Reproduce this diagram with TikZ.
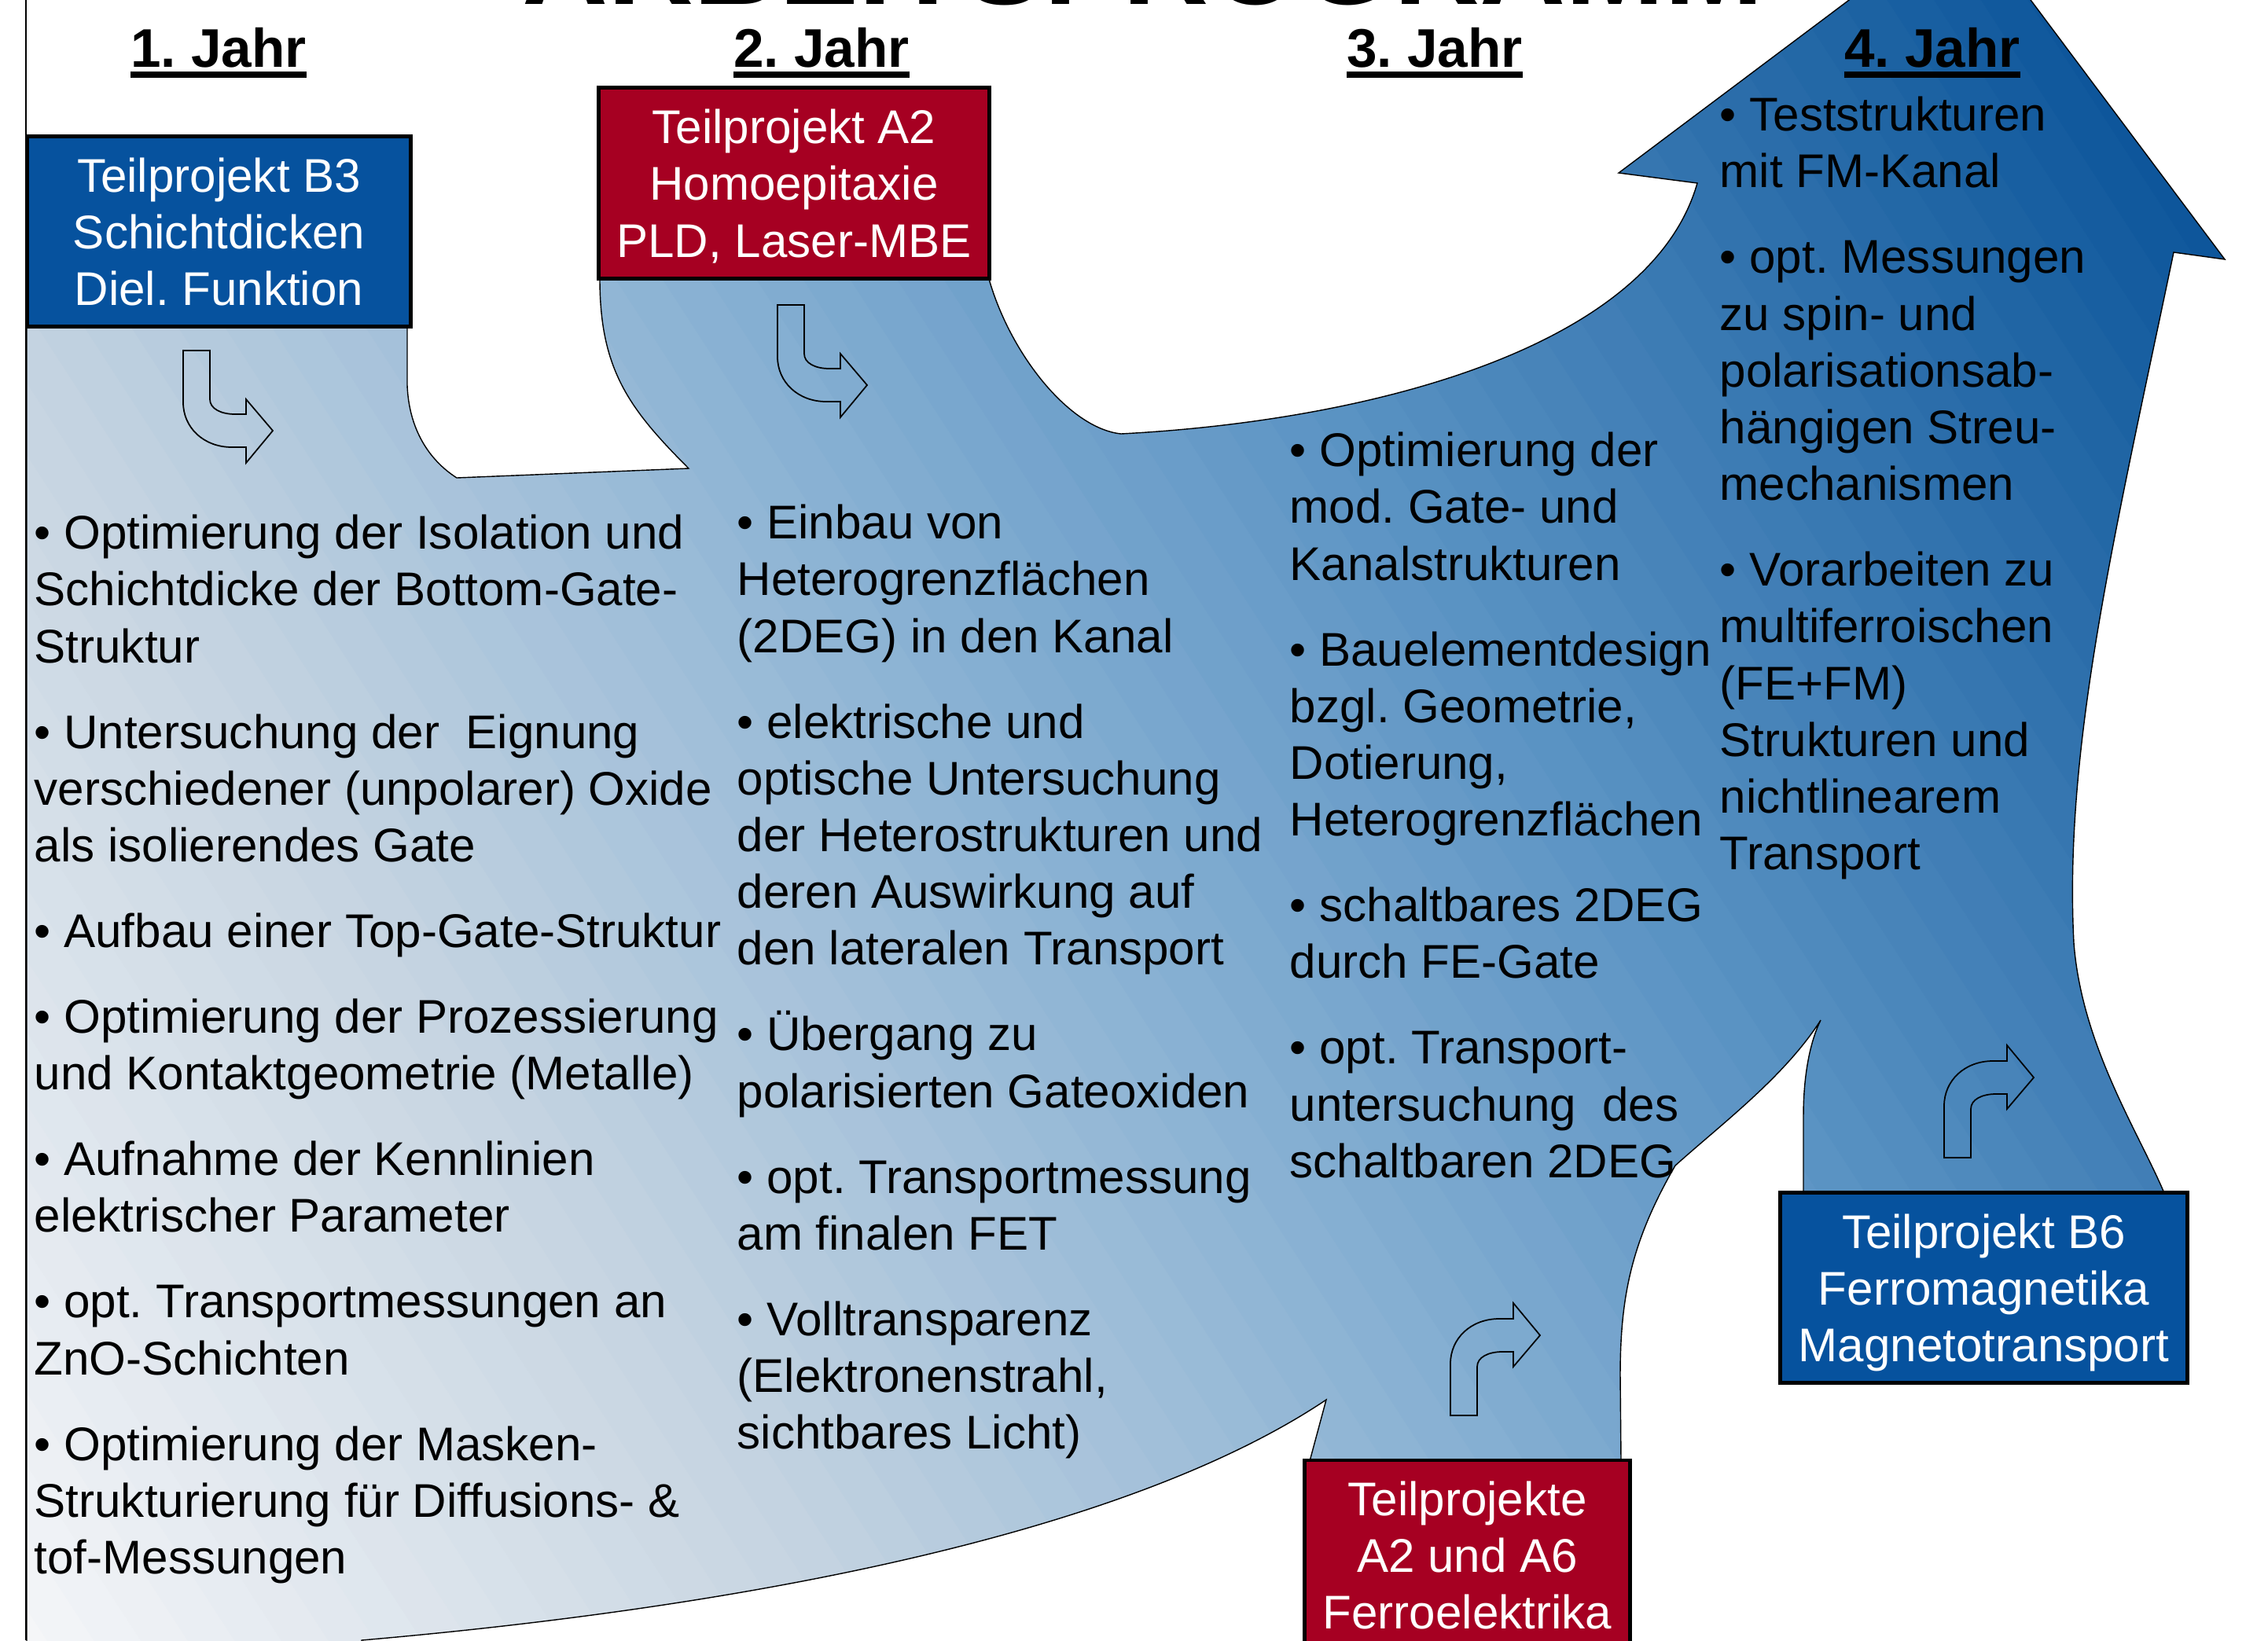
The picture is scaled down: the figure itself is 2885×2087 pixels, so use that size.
\documentclass[tikz,border=0pt]{standalone}
\usepackage{fontspec}
\setmainfont{Liberation Sans}
\frenchspacing
\usetikzlibrary{calc}
\definecolor{tpblau}{RGB}{6,82,158}
\definecolor{tprot}{RGB}{166,0,34}
% Umriss des grossen Pfeils (Einheiten: Pixel, y nach unten)
\def\hauptpfeil{(34,416) -- (518,416) -- (518,490) .. controls (520,545) and (545,585) .. (581,608) -- (876,596) .. controls (800,520) and (763,470) .. (763,355) -- (1258,355) .. controls (1285,450) and (1360,545) .. (1426,552) .. controls (1750,535) and (2100,440) .. (2159,233) -- (2059,220) -- (2500,-111) -- (2830,330) -- (2765,321) .. controls (2690,680) and (2625,950) .. (2638,1200) .. controls (2648,1330) and (2720,1440) .. (2753,1518) -- (2294,1518) -- (2294,1420) .. controls (2294,1360) and (2305,1320) .. (2316,1298) .. controls (2270,1370) and (2190,1430) .. (2131,1483) .. controls (2075,1580) and (2061,1650) .. (2061,1750) -- (2062,1859) -- (1666,1859) -- (1687,1781) .. controls (1450,1940) and (1000,2040) .. (460,2087) -- (460,2100) -- (34,2100) -- cycle}
% kleiner Knickpfeil (runter, dann rechts)
\def\knickpfeil{(0,0) -- (34,0) -- (34,62) .. controls (34,74) and (48,81) .. (66,81) -- (80,81) -- (80,62) -- (114,102) -- (80,143) -- (80,123) -- (62,123) .. controls (26,123) and (0,98) .. (0,66) -- cycle}
% Farbwert eines Streifens, #1..#5 = Kanal an den Stuetzstellen
\newcommand\bandval[5]{\pgfmathparse{(\bandpos<900 ? #1+(#2-#1)*(\bandpos/900) : (\bandpos<1600 ? #2+(#3-#2)*((\bandpos-900)/700) : (\bandpos<2250 ? #3+(#4-#3)*((\bandpos-1600)/650) : #4+(#5-#4)*(min(\bandpos-2250,1150)/1150))))/255}}
\newcommand\boxzeilen[3]{\rule{0pt}{16.4pt}#1\\#2\\#3\rule[-4pt]{0pt}{4pt}}
\tikzset{
  spalte/.style={anchor=north west, align=left, inner sep=0pt, font=\fontsize{17.1}{20.54}\selectfont},
  tpbox/.style={draw=black, line width=1.4pt, text=white, align=center, inner sep=0pt, font=\fontsize{17.1}{20.54}\selectfont},
  jahr/.style={anchor=base, inner sep=0pt, font=\bfseries\fontsize{19.7}{23.6}\selectfont},
  jahrlinie/.style={line width=2.1pt},
  knick/.style={draw=black, line width=0.5pt},
}

\begin{document}
\begin{tikzpicture}[x=0.01cm, y=-0.01cm]
		%%%%% START %%%%%
		\useasboundingbox (0,0) rectangle (2885,2087);
		\fill[white] (0,0) rectangle (2885,2087);
		
		% Verlauf in Streifen
		\begin{scope}
			\clip \hauptpfeil;
			\foreach \i in {0,...,69} {
				\pgfmathsetmacro\bandpos{(\i+0.5)*50}
				\pgfmathsetmacro\bandlo{\i*50}
				\pgfmathsetmacro\bandhi{\i*50+52}
				\bandval{246}{198}{143}{92}{8}\let\bandr\pgfmathresult
				\bandval{247}{212}{181}{148}{82}\let\bandg\pgfmathresult
				\bandval{249}{225}{213}{196}{152}\let\bandb\pgfmathresult
				\definecolor{bandc}{rgb}{\bandr,\bandg,\bandb}
				\fill[bandc, shift={(0,2087)}, rotate=33] (\bandlo,-3000) rectangle (\bandhi,3000);
			}
		\end{scope}
		\draw[line width=0.4pt] \hauptpfeil;
		
		\draw[knick, shift={(233,446)}] \knickpfeil;
		\draw[knick, shift={(989,388)}] \knickpfeil;
		\draw[knick, shift={(1845,1801)}, yscale=-1] \knickpfeil;
		\draw[knick, shift={(2473,1473)}, yscale=-1] \knickpfeil;
		
		\node[anchor=base, inner sep=0pt, font=\bfseries\fontsize{43}{50}\selectfont] (titel) at (1454,5) {ARBEITSPROGRAMM};
		
		\node[jahr] (j1) at (278,85) {1. Jahr};
		\node[jahr] (j2) at (1045,85) {2. Jahr};
		\node[jahr] (j3) at (1825,85) {3. Jahr};
		\node[jahr] (j4) at (2458,85) {4. Jahr};
		\foreach \j in {j1,j2,j3,j4}
			\draw[jahrlinie] ([yshift=-0.1cm]\j.base west) -- ([yshift=-0.1cm]\j.base east);
		
		\node[tpbox, fill=tpblau, minimum width=4.87cm, minimum height=2.41cm] (b3) at (278.5,294.5) {\boxzeilen{Teilprojekt B3}{Schichtdicken}{Diel. Funktion}};
		\node[tpbox, fill=tprot, minimum width=4.96cm, minimum height=2.42cm] (a2) at (1010,233) {\boxzeilen{Teilprojekt A2}{Homoepitaxie}{PLD, Laser-MBE}};
		\node[tpbox, fill=tprot, minimum width=4.13cm, minimum height=2.41cm] (a26) at (1866.5,1978.5) {\boxzeilen{Teilprojekte}{A2 und A6}{Ferroelektrika}};
		\node[tpbox, fill=tpblau, minimum width=5.17cm, minimum height=2.41cm] (b6) at (2523.5,1638.5) {\boxzeilen{Teilprojekt B6}{Ferromagnetika}{Magnetotransport}};
		
		\node[spalte] (t1) at (43,647.3) {\strut• Optimierung der Isolation und\\Schichtdicke der Bottom-Gate-\\Struktur\\[10.45pt]
			• Untersuchung der~~Eignung\\verschiedener (unpolarer) Oxide\\als isolierendes Gate\\[10.45pt]
			• Aufbau einer Top-Gate-Struktur\\[10.45pt]
			• Optimierung der Prozessierung\\und Kontaktgeometrie (Metalle)\\[10.45pt]
			• Aufnahme der Kennlinien\\elektrischer Parameter\\[10.45pt]
			• opt. Transportmessungen an\\ZnO-Schichten\\[10.45pt]
			• Optimierung der Masken-\\Strukturierung für Diffusions- \&\\tof-Messungen};
		
		\node[spalte] (t2) at (937,634.3) {\strut• Einbau von\\Heterogrenzflächen\\(2DEG) in den Kanal\\[10.45pt]
			• elektrische und\\optische Untersuchung\\der Heterostrukturen und\\deren Auswirkung auf\\den lateralen Transport\\[10.45pt]
			• Übergang zu\\polarisierten Gateoxiden\\[10.45pt]
			• opt. Transportmessung\\am finalen FET\\[10.45pt]
			• Volltransparenz\\(Elektronenstrahl,\\sichtbares Licht)};
		
		\node[spalte] (t3) at (1640,542.3) {\strut• Optimierung der\\mod. Gate- und\\Kanalstrukturen\\[10.45pt]
			• Bauelementdesign\\bzgl. Geometrie,\\Dotierung,\\Heterogrenzflächen\\[10.45pt]
			• schaltbares 2DEG\\durch FE-Gate\\[10.45pt]
			• opt. Transport-\\untersuchung~~des\\schaltbaren 2DEG};
		
		\node[spalte] (t4) at (2187,115.3) {\strut• Teststrukturen\\mit FM-Kanal\\[10.45pt]
			• opt. Messungen\\zu spin- und\\polarisationsab-\\hängigen Streu-\\mechanismen\\[10.45pt]
			• Vorarbeiten zu\\multiferroischen\\(FE+FM)\\Strukturen und\\nichtlinearem\\Transport};
		
		\draw[line width=0.5pt] (33,0) -- (33,2087);
		%%%%% END %%%%%
\end{tikzpicture}
\end{document}
